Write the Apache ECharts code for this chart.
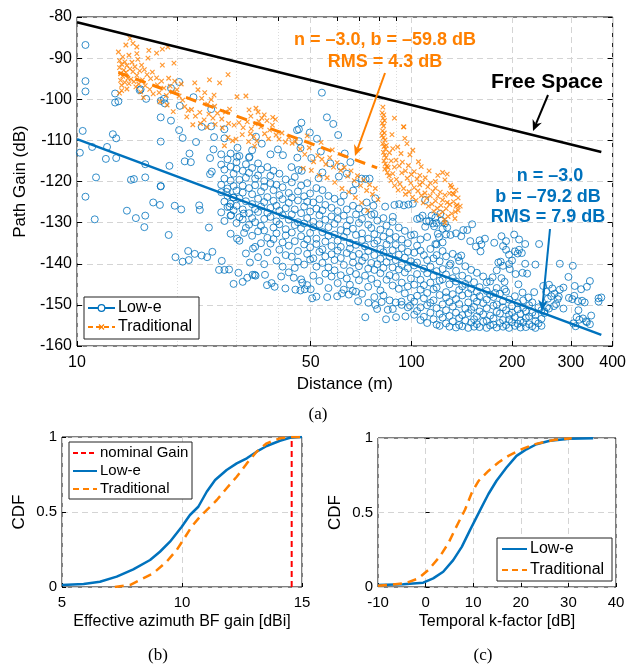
<!DOCTYPE html>
<html>
<head>
<meta charset="utf-8">
<script src="https://cdn.jsdelivr.net/npm/echarts@6/dist/echarts.min.js"></script>
<style>
html, body { margin: 0; padding: 0; background: #fff; }
#chart { width: 629px; height: 664px; }
</style>
</head>
<body>
<div id="chart"></div>
<script>
// (a) path gain vs distance, [distance m, dB]
const lowEPts = [
  [10.6,-86.8],[10.6,-95.6],[10.6,-98.1],[10.4,-107.7],[10.2,-113],[11.1,-111.6],[12.3,-111.6],[12.2,-114.5],[13.1,-114.3],[12.8,-108.5],
  [13.1,-109.5],[11.4,-119],[13,-100.8],[13.3,-100.5],[13,-98.6],[15.4,-97.8],[15.5,-97.6],[16.1,-99.9],[14.5,-119.6],[14.8,-119.4],
  [16,-119],[17.8,-121.1],[16,-115.8],[18.9,-116.2],[17.8,-104.4],[17.8,-110.3],[17.8,-100.4],[18.2,-99.9],[18.3,-101],[20.2,-95.8],
  [19.1,-97.3],[20.2,-107.5],[19.1,-105.2],[20.3,-101.6],[21,-115.1],[21.9,-115.3],[21.7,-113.2],[22.7,-110.4],[22.3,-99.5],[23.6,-106.7],
  [25.2,-106.6],[25.2,-102.4],[25.6,-112.2],[25,-118.2],[25.3,-117.6],[25.7,-109.2],[27.6,-107.3],[27.6,-109.5],[30.2,-111.8],[30.1,-114],
  [34.3,-109.1],[32.8,-114],[20.7,-109.4],[25,-114.3],
  [10.6,-123.7],[11.3,-129.2],[14.1,-127.1],[15,-128.9],[16,-128.3],[15.9,-131.1],[16.9,-125.1],[17.7,-125.7],[17.8,-121.2],[18.8,-133],
  [19.6,-125.9],[20.5,-126.8],[19.7,-138.4],[20.7,-139.5],[21.5,-136.9],[21.6,-139.1],[22.5,-137.6],[23.6,-138],[24.5,-138.4],[25.4,-137.1],
  [23.2,-125.8],[23.3,-126.9],[24.8,-131.2],[27.1,-139.3],[26.6,-141.5],[27.6,-141.5],[28.5,-141.4],[29.4,-144.9],[30.4,-142.2],[31.3,-144.4],
  [32.3,-143.4],[33.5,-142.7],[34.2,-142.9],[32.9,-139.7],[30.1,-133.9],[31.6,-132.5],[33.6,-136.3],[31.5,-127.8],[28.6,-126.1],[28.9,-128.2],
  [28,-122.5],[29.3,-123.9],[36.5,-142.7],[34,-142.7],[37,-145.2],[38.2,-144.7],[39,-145.6],[40.8,-143.1],[42,-146],[45,-146.3],
  [46.6,-146.5],[48,-146.2],[50,-146.2],[44.5,-143.4],[47.2,-144.6],[43.8,-116.5],[45.6,-114.2],[41.3,-113.6],[39.9,-112.2],[37.9,-113.4],
  [33.4,-112.4],[35.7,-110.8],
  [54,-98.4],[55.9,-104.4],[58.4,-106],[60.4,-108.7],[52.2,-109.6],[49.7,-108.1],[46.9,-105.7],[46.1,-107.3],[45.5,-107.5],[46.1,-110.2],
  [46.6,-111.9],[63.2,-113.2],[65.7,-115.3],[60.7,-118.8],[52.8,-119.2],[46,-117.2],[47,-117.4],[71,-119.3],[73,-119.4],[75,-119.3],
  [67,-122.2],[78,-124.1],[77,-125.9],[73.5,-125.1],[88,-128.6],[83.5,-126.1],[89,-125.7],[92,-125.5],[95,-125.8],[98,-125.6],
  [101,-125.4],[110,-124.5],[77.5,-127.9],[54.2,-117.8],[57.2,-115.6],[50.2,-114.3],[53.6,-112.7],[64.1,-118.1],[68.2,-120.5],[61.5,-116.4],
  [72.8,-153],[84,-153.5],[90,-153],[96,-152.8],[79,-151],[85,-151.2],[88,-151],[50.5,-148.4],[52,-148],[56,-148.1],
  [60,-147.9],[65,-147.5],[62,-147.2],[66.8,-146.6],[69.3,-149.1],[74.4,-149.5],[78,-150],[81.5,-149.3],[99.1,-150.2],[93.4,-149.2],
  [177,-134.9],[204,-137],[210,-136.6],[214,-137.4],[219,-140],[235,-140.2],[215,-142.2],[222,-142.4],[188,-140.5],[197,-141.3],
  [205,-142.5],[185,-139.5],[190,-146.2],[190,-144.4],[178,-147.1],[241,-135.2],[147,-131.8],[131,-133],[136,-132.6],[141,-133.3],
  [110,-131],[116,-130.2],[124,-131.5],[120,-132.7],[150,-134.5],[156,-135.8],[161,-137],[138,-138.4],[141,-138],[131,-140],
  [168,-144.5],[175,-143.3],[121,-133.5],[124,-134.8],[127,-132.9],[118,-135.2],[160,-134.3],[162,-135.3],[192,-136.6],[196,-137.8],
  [208,-137.5],[182,-139.7],[196,-140.1],[200,-139.2],[108,-128.3],[113,-129.6],[118,-128.8],[122,-127.9],[117,-130.9],[126,-130.2],
  [104,-129.1],[143,-131.8],[152,-130.4],[166,-133.9],[106,-128.9],[111,-129.7],[115,-128.3],[119,-130.1],[123,-129.5],[128,-131.2],
  [186,-133.3],[192,-134.5],[203,-132.9],[210,-134.1],[219,-135.2],[188,-135.7],[180,-141.6],[186,-143.5],[209,-145],[215,-147],
  [224,-148.2],[233,-146.9],[250,-152],[254,-150.6],
  [278,-140],[304,-140.5],[295,-143.2],[308,-145.4],[342,-144.2],[335,-145.6],[322,-146.2],[363,-148.4],[370,-148.2],[363,-149.2],
  [264,-146],[278,-146.3],[285,-145.8],[274,-148.6],[296,-148.3],[303,-148.6],[324,-149],[330,-149.4],[285,-150.9],[267,-150.3],
  [271,-149.8],[312,-153],[318,-153.6],[326,-153.3],[333,-154],[342,-154.7],[335,-154.2],[316,-151.3],
  [248,-145.4],[253,-146.8],[258,-145.1],[262,-147.9],[256,-148.5],[268,-147.3],[276,-148],[258,-150.9],[250,-151.6],[307,-147.8],
  [315,-149.1],[345,-152.6],[310,-155.2],[305,-154.5]
];
// dense Low-e columns: [distance m, dB, dB, ...]
const lowECols = [
  [27,-113.4,-115.9,-120.8,-122.6,-127.5],[27.6,-117.1,-119.3,-124.9,-129.6],[28.2,-114.6,-121.7,-123.5,-126.2],
  [28.8,-113.2,-116.4,-119.8,-125.4,-128.3,-132.7],[29.4,-118.1,-121.1,-123.9,-127],[30,-115.3,-116.9,-122.2,-125.9,-130.1],
  [30.6,-113.8,-119.6,-124.1,-128.7,-134.4],[31.3,-117.4,-121,-122.7,-126.8,-129.2],[32,-115.8,-119.1,-124.8,-131.3,-137.5],
  [32.7,-114.2,-117.9,-121.6,-127.7,-130.5],[33.4,-116.7,-123.1,-125.5,-128.9,-133.2],[34.1,-119.3,-120.9,-126.7,-129.9,-135.9],
  [34.8,-115.6,-118.5,-124.2,-127.4,-132.1,-138.4],[35.5,-117.1,-122.4,-126.1,-130.8,-135],[36.3,-119.9,-121.3,-125,-129.1,-131.9,-140.1],
  [37.1,-116.5,-123.8,-127.6,-133.7,-137.2],[37.9,-118.6,-120.4,-126.4,-128.6,-135.1],[38.7,-117.4,-122.1,-124.7,-131.2,-134],
  [39.5,-120.8,-125.9,-129.7,-132.6,-139.2],[40.3,-118.1,-123.3,-127.1,-130.4,-136.6],[41.2,-121.4,-124.3,-128.2,-134.8,-140.7],
  [42.1,-119.5,-126.5,-131.6,-133.1,-137.9],[43,-122.8,-125.2,-129.3,-135.6,-142.1],[43.9,-120.2,-123.9,-128,-132.4,-138.3],
  [44.8,-118.9,-126.8,-130.6,-134.5,-141],[45.8,-122.4,-124.6,-129.9,-136.9,-139.5],[46.8,-121,-127.7,-131.4,-133.3,-143.8],
  [47.8,-123.6,-126.1,-130.2,-135.3,-140.2],[48.8,-120.4,-124.9,-128.9,-134.1,-137.6,-145.2],[49.8,-122.9,-127.3,-132.5,-136,-139],
  [50.9,-125.1,-129.8,-131.1,-138.7,-142.9],[52,-121.6,-126.6,-133.9,-135.2,-140.7],[53.1,-124.3,-128.2,-130.4,-137.1,-144.2],
  [54.2,-122.1,-127,-132.3,-136.5,-139.8],[55.3,-125.7,-129.3,-134.6,-138.2,-142.4],[56.5,-123.5,-131.1,-133.2,-140.9,-145.9],
  [57.7,-126.4,-128.5,-135.7,-137.7,-143.1],[58.9,-124.2,-130.3,-132.9,-139.1,-141.6],[60.2,-127.2,-129.1,-134.4,-136.8,-144.7],
  [61.5,-125,-131.8,-135.9,-138.6,-142.8],[62.8,-123.4,-128.3,-133.5,-140.3,-146.3],[64.1,-126.8,-130.7,-132.2,-137.4,-143.6],
  [65.5,-129.4,-134.9,-136.3,-141.8,-145.1],[66.9,-125.9,-131.5,-138.1,-139.7],[68.3,-128,-133,-135.4,-142.5,-146.8],
  [69.7,-126.6,-130.1,-137.6,-140.6,-144],[71.2,-129.1,-132.6,-134.2,-139.3,-147.3],[72.7,-127.3,-135.8,-138.4,-142.9],
  [74.3,-130.5,-133.9,-136.9,-141.2,-145.6],[75.9,-128.1,-131.3,-139.8,-143.7],[77.5,-132.8,-135.1,-137.9,-141.5,-148.1],
  [79.1,-129.5,-134.4,-140.1,-144.8],[80.8,-131.7,-136.4,-138.8,-142.3,-146.5],[82.5,-128.9,-133.4,-137.2,-141,-147.7],
  [84.3,-130.7,-135.3,-139.6,-143.9],[86.1,-132.4,-134.2,-138.3,-142.8,-148.9],[87.9,-129.8,-136.7,-140.9,-145.3],
  [89.8,-133.5,-135.4,-139.1,-143.2,-149.4],[91.7,-131.2,-137.8,-141.4,-146.1],[93.6,-134.1,-136.2,-140.3,-144.6,-150],
  [95.6,-132,-138.5,-142.1,-147.2],[97.6,-135,-137.1,-141.1,-145.5,-150.6],[99.7,-133.1,-139.4,-143.6,-148.3],
  [102,-132.9,-137.3,-140.4,-145.1,-149.2,-152.4],[104,-135.6,-139.7,-142.5,-147.8,-151.5],[106.5,-134.1,-136.8,-143.9,-146.3,-150.6,-153.7],
  [109,-137.9,-141.2,-145.2,-148.4,-152.9],[111.5,-133.5,-139.1,-142.3,-147.1,-150.1,-154.4],[114,-136.4,-140.7,-144.6,-149.5,-151.9],
  [116.5,-138.7,-143,-146.2,-148.9,-153.5],[119,-135.3,-137.9,-141.8,-145.8,-150.8,-154.8],[121.5,-139.4,-144.1,-147.6,-152.2,-155.1],
  [124,-136.9,-141.3,-143.8,-149.9,-153.1],[127,-138.2,-142.6,-146.9,-148.2,-151.3,-154.5],[130,-140.4,-145,-149.3,-152.7,-155.3],
  [133,-137.6,-143.5,-147.4,-150.4,-154],[136,-141.7,-144.3,-148.6,-151.9,-155.5],[139,-139.3,-146.4,-149.8,-153.2,-154.9],
  [142,-142.9,-145.5,-147.7,-152.5,-155.2],[145,-140.6,-144.9,-150.9,-153.8],[148,-143.7,-147.2,-149.4,-152,-155.6],
  [151,-141.5,-146.1,-151.2,-154.3],[154,-144.5,-148.3,-150.5,-153.5,-155.3],[157,-142.2,-146.8,-149.2,-152.8,-154.7],
  [160,-145.7,-147.9,-151.6,-155.4],[164,-143.1,-149.6,-152.3,-154.1],[168,-146.6,-148.7,-150.8,-153.9,-155.6],
  [172,-144.3,-147.5,-152.6,-155],[176,-148.1,-150.2,-153.3,-154.8],[180,-145.9,-149.9,-151.7,-155.5],
  [184,-147.3,-152.1,-154.4],[188,-149.1,-150.6,-153.7,-155.3],[192,-146.8,-151.3,-154.9],
  [196,-148.7,-152.4,-153.6,-155.6],[200,-150.3,-151.9,-154.2],[204,-147.9,-153,-155.1],
  [208,-149.6,-151.1,-154.6],[212,-152.2,-153.8,-155.5],[216,-148.9,-150.7,-154.3],
  [220,-151.6,-153.2,-155.4],[225,-150.1,-152.8,-154.7],[230,-149.4,-151.9,-155.2],
  [235,-152.5,-153.9,-155.6],[240,-150.6,-154.5],[245,-151.3,-153.4,-155.1]
];
const tradPts = [
  [13.3,-88.5],[13.4,-90.6],[13.4,-92.3],[13.5,-93.8],[13.5,-95.4],[13.6,-91.5],[13.6,-96.6],[13.7,-89.7],[13.7,-94.4],[13.8,-92.9],
  [13.9,-95.9],[13.9,-90.9],[14,-93.5],[14.1,-97.5],[14.1,-91.8],[14.2,-94.9],[14.3,-89.3],[14.3,-96.2],[14.4,-92.6],[14.5,-95.1],
  [13.4,-98.5],[13.6,-97.9],[14,-86.8],[14.4,-85.2],[14.7,-86.4],[15.1,-87.3],
  [14.6,-91],[14.7,-93.3],[14.8,-95.7],[14.9,-92.1],[15,-97],[15.1,-94.2],[15.2,-90.3],[15.3,-96.3],[15.4,-93.1],[15.5,-98.2],
  [15.6,-91.7],[15.7,-95.3],[15.9,-92.8],[16,-96.7],[16.2,-94],[16.3,-90],[16.5,-97.6],[16.6,-95],[16.8,-93.4],[16.9,-98.7],
  [15.8,-99.6],[15.1,-88.9],[16.4,-88.1],
  [17.3,-88.8],[18,-87.8],[18.7,-87.3],[19.5,-91.2],[18,-91.7],[17.3,-94.8],[17.4,-96.5],[17.6,-98.4],[17.9,-95.6],[18.2,-97.3],
  [18.5,-99.1],[18.8,-94.9],[19,-96.8],[19.3,-98.2],[19.6,-95.6],[19.9,-97.7],[20.2,-99.2],[20.5,-96.3],[19.4,-103],[20.7,-100.2],
  [21,-101.8],[21.3,-104.3],[21.5,-102.7],[17.7,-100.6],[18.6,-101.4],
  [22.5,-96],[23,-97.7],[23.6,-99.8],[24.1,-98.4],[24.6,-101.2],[25.2,-100.1],[25.8,-101.7],[24.9,-95.3],[26.7,-96],[25.7,-99],
  [28.3,-94],[22,-102.5],[22.6,-104.1],[23.3,-103.2],[24,-105],[24.8,-103.6],[25.5,-104.6],[26.3,-103.4],[27.1,-104.8],[27.8,-103.1],
  [28.6,-102.4],[22.2,-106.2],[23.4,-105.9],[24.5,-106.8],[25.9,-106.1],[27.2,-107],[28.4,-105.9],[28.3,-109.3],[29.2,-110.1],[27.6,-111.3],
  [30.1,-99.4],[32,-99.2],[34.3,-102.2],[35.7,-104.6],[38.5,-104.4],[29.5,-106.3],[30.5,-105.7],[31.4,-106.9],[32.3,-105.5],[33.2,-107.2],
  [34.1,-106],[35,-105.4],[29.9,-109.7],[31.2,-108.6],[32.6,-110.3],[33.8,-109.1],[34,-111.4],[32.7,-102.6],[33.1,-104.1],[34.8,-103.1],
  [35.5,-106.7],[36.3,-103.8],[37,-105.2],[37.7,-107.5],[38.4,-106.3],[39.2,-104.9],[36.4,-108.4],[37.4,-109.6],[39.4,-108.7],[40.2,-109.7],
  [41,-108.2],[42,-110.4],[43,-109.3],[44,-110.7],[33,-108.4],[34.5,-110.2],
  [45,-110.3],[46.5,-112.1],[48,-113.4],[49.5,-111.8],[51,-115.2],[52.5,-113.7],[54,-114.6],[55.5,-115.8],[57,-114.2],[58.5,-116.5],
  [60,-115.4],[61.5,-117.3],[63,-116.6],[64.5,-118.7],[66,-117.4],[67.5,-119.8],[69,-118.6],[70.5,-121],[72,-119.6],[73.5,-122.2],
  [75,-120.8],[76.5,-123.1],[78,-121.7],[79.5,-124.4],[47.5,-116.8],[50.2,-117.3],[53,-118.5],[56,-119.1],[59,-120.2],[62,-121.7],
  [65,-122.6],[68,-123.9],[71,-125.2],[74,-127.1],[48.8,-108.9],[53.7,-110.5],[58,-112.3],
  [81.8,-103.3],[82.3,-104.6],[81.9,-105.8],[82.6,-106.5],[82,-107.7],[83,-108.2],[82.4,-109.4],[83.4,-109.9],[82.1,-110.8],[82.9,-111.5],
  [83.7,-112.1],[82.5,-112.9],[83.2,-113.6],[84,-114.2],[82.8,-115],[83.6,-115.7],[84.4,-116.3],[83.3,-117],[84.8,-117.8],[85.2,-116.6],
  [82.2,-101.9],[82.7,-103.8],[83.1,-105.2],[81.7,-108.8],[84.2,-111.2],
  [89,-104.6],[95,-106.7],[94.7,-106.7],[95.6,-109.5],[87,-115],[89,-116.5],[107,-116.4],[87.5,-108.6],[91,-111.6],[93.1,-113.2],
  [85.8,-118.6],[86.9,-119.8],[88,-118.1],[89.1,-121],[90.2,-119.5],[91.3,-122.1],[92.4,-120.6],[93.6,-117.9],[94.8,-121.7],[96,-123.1],
  [97.2,-119.2],[98.4,-122.5],[99.6,-120.4],[100.8,-123.8],[102,-121.5],[103.3,-124.6],[104.6,-122.3],[105.9,-120.8],[107.2,-123.4],[108.5,-125.2],
  [109.8,-122.8],[111.1,-124.1],[112.5,-126],[113.9,-123.5],[115.3,-125.5],[116.7,-127.2],[118.1,-124.7],[119.6,-126.5],[121.1,-128.1],[122.6,-125.8],
  [124.1,-127.4],[125.6,-129.3],[127.1,-126.6],[128.7,-128.5],[130.3,-125.6],[132,-127.8],[133.7,-124.9],[135.4,-127.4],[137,-125.7],[126,-130.1],
  [86,-113],[88,-112],[90,-114.8],[92,-116.2],[94,-115.3],[96,-117.4],[98,-116.1],[100,-118.3],[102,-117.6],[104,-119.4],
  [106,-118.5],[108,-120.2],[110,-119.1],[112,-121.3],[114,-120.4],[116,-122.4],[118,-121.6],[120,-123.6],[122,-122.6],[124,-124.5],
  [126,-123.3],[128,-125.1],[130,-122.9],[132,-121.4],[134,-123.1],[136,-122.1],[138,-124],[140,-126],[120,-118.5],[113,-117.4],
  [105,-115.2],[99,-113.5],[97,-110.8],[101,-112.4],
  [118,-120],[126,-119.6],[131,-120.9],[133,-122.9],[136,-126],[138,-127],[135,-129],[128,-118.2],[124,-117.8]
];
// fitted / reference lines, [distance m, dB]
const freeSpace = [[10,-81.3],[370,-112.8]];
const lowEFit = [[10,-109.7],[370,-157.3]];
const tradFit = [[13.3,-93.5],[79,-116.7]];
const xTicksA = [10, 50, 100, 200, 300, 400];
const xMinorA = [20, 30, 40, 60, 70, 80, 90];

// (b) effective azimuth BF gain CDF, [dBi, CDF]
const gainLowE = [[5,0.013],[5.9,0.02],[6.58,0.035],[7.28,0.069],[7.97,0.118],[8.67,0.18],[9.08,0.235],[9.5,0.302],[9.99,0.402],[10.33,0.48],
  [10.68,0.535],[11.03,0.635],[11.38,0.713],[11.86,0.78],[12.28,0.824],[12.7,0.858],[13.11,0.902],[13.53,0.94],[14.08,0.975],[14.5,0.995],[15,1]];
const gainTrad = [[7.2,0],[7.83,0.013],[8.25,0.047],[8.8,0.091],[9.36,0.169],[9.78,0.247],[10.05,0.313],[10.4,0.402],[10.75,0.469],[11.1,0.524],
  [11.45,0.58],[11.86,0.658],[12.28,0.735],[12.7,0.824],[13.11,0.902],[13.53,0.958],[14.08,0.991],[14.5,1],[15,1]];
const nominalGain = 14.57;

// (c) temporal k-factor CDF, [dB, CDF]
const kLowE = [[-10,0.013],[-4.7,0.018],[-0.5,0.029],[1.6,0.058],[3.7,0.102],[5.8,0.18],[7.6,0.269],[9.3,0.38],[11.4,0.513],[13.2,0.624],
  [14.9,0.713],[17,0.802],[19.1,0.88],[21.2,0.924],[23.3,0.958],[26.1,0.982],[30.3,0.995],[35.2,0.998]];
const kTrad = [[-10,0.008],[-4.3,0.025],[-1.5,0.058],[0.6,0.115],[3,0.205],[4.8,0.295],[6.5,0.407],[8.3,0.52],[9.7,0.633],[11.1,0.711],
  [13.2,0.779],[15.3,0.836],[17.4,0.88],[20.2,0.925],[23,0.959],[27.2,0.988],[30.7,0.998]];

const BLUE = '#0072BD';
const ORANGE = '#FF8000';
const FONT = 'Liberation Sans';
const lg = d => Math.log10(d);
const toLog = arr => arr.map(p => [lg(p[0]), p[1]]);
const lowEAll = lowEPts.concat(lowECols.flatMap(c => c.slice(1).map(v => [c[0], v])));

function arrow(x1, y1, x2, y2, color) {
  const a = Math.atan2(y2 - y1, x2 - x1);
  const L = 11, W = 5;
  const bx = x2 - L * Math.cos(a), by = y2 - L * Math.sin(a);
  const nx = -Math.sin(a), ny = Math.cos(a);
  const mx = x2 - 0.7 * L * Math.cos(a), my = y2 - 0.7 * L * Math.sin(a);
  return [
    { type: 'line', z: 100, shape: { x1: x1, y1: y1, x2: mx, y2: my }, style: { stroke: color, lineWidth: 2 } },
    { type: 'polygon', z: 100, shape: { points: [[x2, y2], [bx + W * nx, by + W * ny], [mx, my], [bx - W * nx, by - W * ny]] },
      style: { fill: color } }
  ];
}
function label(text, x, y, font, color) {
  return { type: 'text', z: 100, x: x, y: y, style: { text: text, font: font, fill: color, align: 'center', verticalAlign: 'middle' } };
}
// legend entry drawn by hand: line sample + text
function legendRow(x, y, w, color, dash, text, size) {
  return [
    { type: 'line', z: 101, shape: { x1: x, y1: y, x2: x + w, y2: y }, style: { stroke: color, lineWidth: 2, lineDash: dash } },
    { type: 'text', z: 101, x: x + w + 3, y: y, style: { text: text, font: size + 'px ' + FONT, fill: '#000', verticalAlign: 'middle' } }
  ];
}
function box(x, y, w, h) {
  return { type: 'rect', z: 100, shape: { x: x, y: y, width: w, height: h }, style: { fill: '#fff', stroke: '#222', lineWidth: 1 } };
}

const tickStyle = { color: '#000', width: 1 };
const gridLine = { show: true, lineStyle: { color: '#d4d4d4', type: [6, 4], width: 1 } };
const lblStyle = { color: '#000', fontFamily: FONT };

let chart = echarts.init(document.getElementById('chart'));
let options = {
  animation: false,
  backgroundColor: '#fff',
  grid: [
    { left: 77, top: 17, width: 538, height: 329, show: true, borderColor: '#000', borderWidth: 1 },
    { left: 62, top: 437, width: 240, height: 150, show: true, borderColor: '#000', borderWidth: 1 },
    { left: 378, top: 438, width: 238, height: 149, show: true, borderColor: '#000', borderWidth: 1 }
  ],
  xAxis: [
    {
      gridIndex: 0, type: 'value', min: 1, max: lg(400),
      axisLine: { show: false },
      axisTick: { inside: true, length: 5, customValues: xTicksA.map(lg), lineStyle: tickStyle },
      axisLabel: { customValues: xTicksA.map(lg), formatter: v => String(Math.round(Math.pow(10, v))), fontSize: 16, margin: 9, ...lblStyle },
      splitLine: gridLine,
      name: 'Distance (m)', nameLocation: 'middle', nameGap: 30, nameTextStyle: { fontSize: 17, ...lblStyle }
    },
    {
      gridIndex: 0, type: 'value', min: 1, max: lg(400), position: 'top',
      axisLine: { show: false }, axisLabel: { show: false },
      axisTick: { inside: true, length: 4, customValues: xMinorA.map(lg), lineStyle: tickStyle },
      splitLine: { show: true, lineStyle: { color: '#dcdcdc', type: [1, 2], width: 1 } }
    },
    {
      gridIndex: 1, type: 'value', min: 5, max: 15, interval: 5,
      axisLine: { show: false },
      axisTick: { inside: true, length: 4, lineStyle: tickStyle },
      axisLabel: { fontSize: 15, margin: 8, ...lblStyle },
      splitLine: gridLine,
      name: 'Effective azimuth BF gain [dBi]', nameLocation: 'middle', nameGap: 27, nameTextStyle: { fontSize: 16, ...lblStyle }
    },
    {
      gridIndex: 2, type: 'value', min: -10, max: 40, interval: 10,
      axisLine: { show: false },
      axisTick: { inside: true, length: 4, lineStyle: tickStyle },
      axisLabel: { fontSize: 15, margin: 8, ...lblStyle },
      splitLine: gridLine,
      name: 'Temporal k-factor [dB]', nameLocation: 'middle', nameGap: 27, nameTextStyle: { fontSize: 16, ...lblStyle }
    }
  ],
  yAxis: [
    {
      gridIndex: 0, type: 'value', min: -160, max: -80, interval: 10,
      axisLine: { show: false },
      axisTick: { inside: true, length: 5, lineStyle: tickStyle },
      axisLabel: { fontSize: 16, margin: 5, ...lblStyle },
      splitLine: gridLine,
      name: 'Path Gain (dB)', nameLocation: 'middle', nameGap: 43, nameTextStyle: { fontSize: 17, ...lblStyle }
    },
    {
      gridIndex: 0, type: 'value', min: -160, max: -80, interval: 10, position: 'right',
      axisLine: { show: false }, axisLabel: { show: false }, splitLine: { show: false },
      axisTick: { inside: true, length: 5, lineStyle: tickStyle }
    },
    {
      gridIndex: 1, type: 'value', min: 0, max: 1, interval: 0.5,
      axisLine: { show: false },
      axisTick: { inside: true, length: 4, lineStyle: tickStyle },
      axisLabel: { fontSize: 15, margin: 5, ...lblStyle },
      splitLine: gridLine,
      name: 'CDF', nameLocation: 'middle', nameGap: 34, nameTextStyle: { fontSize: 17, ...lblStyle }
    },
    {
      gridIndex: 2, type: 'value', min: 0, max: 1, interval: 0.5,
      axisLine: { show: false },
      axisTick: { inside: true, length: 4, lineStyle: tickStyle },
      axisLabel: { fontSize: 15, margin: 5, ...lblStyle },
      splitLine: gridLine,
      name: 'CDF', nameLocation: 'middle', nameGap: 34, nameTextStyle: { fontSize: 17, ...lblStyle }
    }
  ],
  series: [
    {
      name: 'Low-e (a)', type: 'scatter', xAxisIndex: 0, yAxisIndex: 0, silent: true, large: false,
      data: toLog(lowEAll), symbol: 'circle', symbolSize: 7,
      itemStyle: { color: 'rgba(0,0,0,0)', borderColor: BLUE, borderWidth: 1 }
    },
    {
      name: 'Traditional (a)', type: 'scatter', xAxisIndex: 0, yAxisIndex: 0, silent: true,
      data: toLog(tradPts), symbol: 'path://M0 0L10 10M10 0L0 10', symbolSize: 4.5,
      itemStyle: { color: 'rgba(0,0,0,0)', borderColor: ORANGE, borderWidth: 1.2 }
    },
    {
      name: 'Free space', type: 'line', xAxisIndex: 0, yAxisIndex: 0, silent: true, z: 5,
      data: toLog(freeSpace), symbol: 'none', lineStyle: { color: '#000', width: 2.6 }
    },
    {
      name: 'Low-e fit', type: 'line', xAxisIndex: 0, yAxisIndex: 0, silent: true, z: 5,
      data: toLog(lowEFit), symbol: 'none', lineStyle: { color: BLUE, width: 2.6 }
    },
    {
      name: 'Traditional fit', type: 'line', xAxisIndex: 0, yAxisIndex: 0, silent: true, z: 5,
      data: toLog(tradFit), symbol: 'none', lineStyle: { color: ORANGE, width: 3, type: [11, 7] }
    },
    {
      name: 'nominal Gain', type: 'line', xAxisIndex: 2, yAxisIndex: 2, z: 4,
      data: [[nominalGain, 0], [nominalGain, 1]], symbol: 'none',
      lineStyle: { color: '#FF0000', width: 2, type: [6, 4] }
    },
    {
      name: 'Low-e', type: 'line', xAxisIndex: 2, yAxisIndex: 2, z: 3,
      data: gainLowE, symbol: 'none', lineStyle: { color: BLUE, width: 2.5 }
    },
    {
      name: 'Traditional', type: 'line', xAxisIndex: 2, yAxisIndex: 2, z: 3,
      data: gainTrad, symbol: 'none', lineStyle: { color: ORANGE, width: 2.5, type: [9, 6] }
    },
    {
      name: 'Low-e', type: 'line', xAxisIndex: 3, yAxisIndex: 3, z: 3,
      data: kLowE, symbol: 'none', lineStyle: { color: BLUE, width: 2.5 }
    },
    {
      name: 'Traditional', type: 'line', xAxisIndex: 3, yAxisIndex: 3, z: 3,
      data: kTrad, symbol: 'none', lineStyle: { color: ORANGE, width: 2.5, type: [9, 6] }
    }
  ],
  graphic: [
    label('n = \u20133.0, b = \u201359.8 dB', 385, 40, 'bold 18px ' + FONT, ORANGE),
    label('RMS = 4.3 dB', 385, 62, 'bold 18px ' + FONT, ORANGE),
    ...arrow(385, 73, 355, 156, ORANGE),
    label('Free Space', 547, 82, 'bold 21px ' + FONT, '#000'),
    ...arrow(548, 95, 533, 131, '#000'),
    label('n = \u20133.0', 550, 176, 'bold 18px ' + FONT, BLUE),
    label('b = \u201379.2 dB', 548, 197, 'bold 18px ' + FONT, BLUE),
    label('RMS = 7.9 dB', 548, 217, 'bold 18px ' + FONT, BLUE),
    ...arrow(550, 229, 542, 311, BLUE),
    // legend of (a)
    box(84, 297, 115, 42),
    { type: 'line', z: 101, shape: { x1: 88, y1: 308, x2: 115, y2: 308 }, style: { stroke: BLUE, lineWidth: 2 } },
    { type: 'circle', z: 101, shape: { cx: 101.5, cy: 308, r: 3.3 }, style: { fill: '#fff', stroke: BLUE, lineWidth: 1.2 } },
    { type: 'text', z: 101, x: 118, y: 308, style: { text: 'Low-e', font: '16px ' + FONT, fill: '#000', verticalAlign: 'middle' } },
    { type: 'line', z: 101, shape: { x1: 88, y1: 327, x2: 115, y2: 327 }, style: { stroke: ORANGE, lineWidth: 2, lineDash: [5, 3] } },
    { type: 'line', z: 101, shape: { x1: 99, y1: 324.5, x2: 104, y2: 329.5 }, style: { stroke: ORANGE, lineWidth: 1.3 } },
    { type: 'line', z: 101, shape: { x1: 104, y1: 324.5, x2: 99, y2: 329.5 }, style: { stroke: ORANGE, lineWidth: 1.3 } },
    { type: 'text', z: 101, x: 118, y: 327, style: { text: 'Traditional', font: '16px ' + FONT, fill: '#000', verticalAlign: 'middle' } },
    // legend of (b)
    box(69, 442, 123, 57),
    ...legendRow(73, 453, 24, '#FF0000', [5, 3], 'nominal Gain', 15),
    ...legendRow(73, 471, 24, BLUE, null, 'Low-e', 15),
    ...legendRow(73, 489, 24, ORANGE, [6, 4], 'Traditional', 15),
    // legend of (c)
    box(497, 538, 115, 43),
    ...legendRow(502, 549, 25, BLUE, null, 'Low-e', 16),
    ...legendRow(502, 570, 25, ORANGE, [6, 4], 'Traditional', 16),
    label('(a)', 318, 415, '17px Liberation Serif', '#000'),
    label('(b)', 158, 656, '17px Liberation Serif', '#000'),
    label('(c)', 483, 656, '17px Liberation Serif', '#000')
  ]
};
chart.setOption(options);
window.addEventListener('resize', function () {
  chart.resize();
});
</script>
</body>
</html>
